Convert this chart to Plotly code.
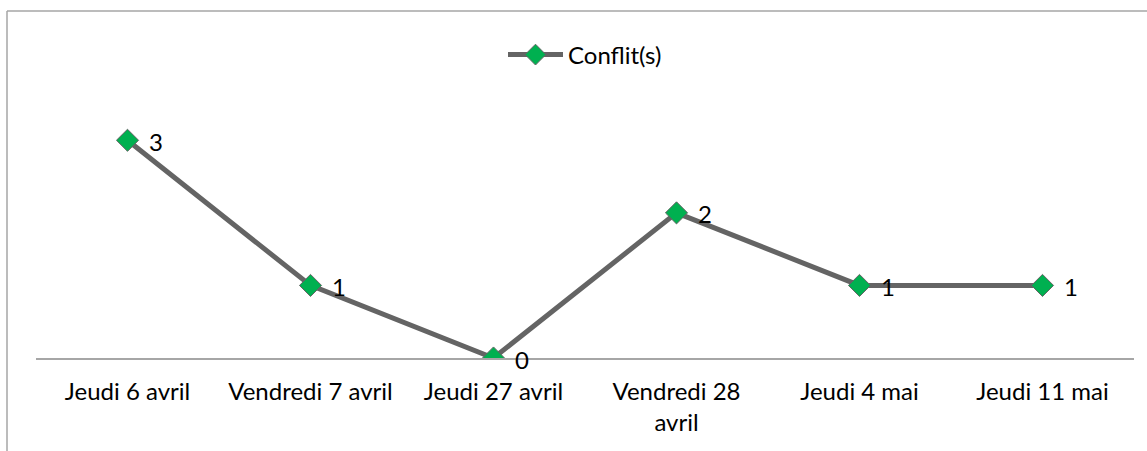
import plotly.graph_objects as go

categories = ["Jeudi 6 avril", "Vendredi 7 avril", "Jeudi 27 avril",
              "Vendredi 28<br>avril", "Jeudi 4 mai", "Jeudi 11 mai"]
conflicts = [3, 1, 0, 2, 1, 1]
series_name = "Conflit(s)"

W, H = 1147, 451
L, R, T, B = 36, 13, 104, 93
pw, ph = W - L - R, H - T - B

def px_x(p):
    return (p - L) / pw

def px_y(p):
    return (H - B - p) / ph

FONT = "Lato"
FS = 24

fig = go.Figure()
fig.add_trace(go.Scatter(
    x=categories, y=conflicts, mode="lines+markers", name=series_name,
    line=dict(color="#646464", width=5),
    marker=dict(symbol="diamond", size=17, color="#00B050",
                line=dict(color="#646464", width=1)),
))

for c, v in zip(categories, conflicts):
    fig.add_annotation(x=c, y=v, text=str(v), showarrow=False,
                       xshift=28, yshift=-1,
                       font=dict(family=FONT, size=FS, color="#000000"))

fig.add_shape(type="line", xref="paper", yref="paper",
              x0=px_x(7), x1=px_x(1160), y0=px_y(11), y1=px_y(11),
              line=dict(color="#A6A6A6", width=1.5))
fig.add_shape(type="line", xref="paper", yref="paper",
              x0=px_x(7), x1=px_x(7), y0=px_y(11), y1=px_y(470),
              line=dict(color="#A6A6A6", width=1.5))

fig.update_layout(
    width=W, height=H,
    margin=dict(l=L, r=R, t=T, b=B, autoexpand=False),
    plot_bgcolor="white", paper_bgcolor="white",
    font=dict(family=FONT, size=FS, color="#000000"),
    showlegend=True,
    legend=dict(orientation="h", x=0.5, xanchor="center",
                y=px_y(55), yanchor="middle",
                font=dict(family=FONT, size=FS, color="#000000"),
                itemwidth=55),
    xaxis=dict(showline=True, linecolor="#A6A6A6", linewidth=1.5,
               range=[-0.5, len(categories) - 0.5], automargin=False,
               showgrid=False, zeroline=False, ticks="",
               ticklabelstandoff=11,
               tickfont=dict(family=FONT, size=FS, color="#000000")),
    yaxis=dict(range=[0, 3.5], visible=False, showgrid=False, zeroline=False,
               automargin=False),
)

fig.write_html("out.html", config={"displayModeBar": False},
               post_script="document.body.style.margin='0px';document.body.style.overflow='hidden';")
